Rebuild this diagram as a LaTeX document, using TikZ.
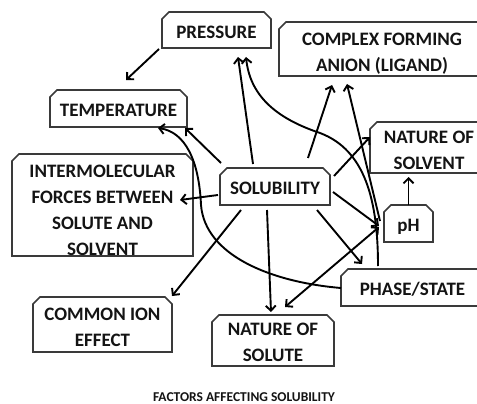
\documentclass[tikz,border=0pt]{standalone}
\usepackage{fontspec}
\setmainfont{Carlito}
\usetikzlibrary{arrows.meta,calc}
\definecolor{boxgray}{HTML}{3A3A3A}
\definecolor{ink}{HTML}{141414}
\tikzset{
  boxshape/.style={rectangle, draw=none, inner sep=0pt, outer sep=0pt},
  boxline/.style={draw=boxgray, line width=1.6pt, line join=miter},
  lbl/.style={align=center, inner sep=0pt, font=\fontsize{19}{26}\selectfont\bfseries, text=ink},
  tip/.tip={Straight Barb[length=5pt,width=10pt]},
  arr/.style={draw=black, line width=1.9pt, -tip},
  arrboth/.style={draw=black, line width=1.9pt, tip-tip},
}
\newcommand\chambox[7]{%
  \node[boxshape, minimum width={(#4-#2)*1pt}, minimum height={(#5-#3)*1pt}] (#1) at ({(#2+#4)/2},{(#3+#5)/2}) {};
  \draw[boxline] (#1.south west) -- ([yshift=-7pt]#1.north west) -- ([xshift=7pt]#1.north west) -- ([xshift=-7pt]#1.north east) -- ([yshift=-7pt]#1.north east) -- (#1.south east) -- cycle;
  \node[lbl] (#1-text) at ({(#2+#4)/2},{(#3+#5)/2+#7}) {#6};
}
\begin{document}
\begin{tikzpicture}[x=1pt,y=-1pt]
\useasboundingbox (0,0) rectangle (477,404);
\clip (0,0) rectangle (477,404);
\fill[white] (0,0) rectangle (477,404);
% boxes
\chambox{pres}{162}{12}{271}{48}{PRESSURE}{2.5}
\chambox{cplx}{279}{22}{485}{76}{COMPLEX FORMING\\ANION (LIGAND)}{5}
\chambox{temp}{50}{90}{187}{127}{TEMPERATURE}{1.5}
\chambox{inter}{12}{154}{193}{256}{INTERMOLECULAR\\FORCES BETWEEN\\SOLUTE AND\\SOLVENT}{5}
\chambox{sol}{220}{168}{330}{205}{SOLUBILITY}{2}
\chambox{nsolv}{370}{122}{488}{173}{NATURE OF\\SOLVENT}{2.5}
\chambox{ph}{384}{205}{433}{242}{pH}{3.5}
\chambox{phase}{341}{269}{484}{306}{PHASE/STATE}{2}
\chambox{nsolu}{212}{315}{334}{366}{NATURE OF\\SOLUTE}{2}
\chambox{cion}{33}{297}{172}{352}{COMMON ION\\EFFECT}{2.5}
\node[font=\fontsize{13.5}{16}\selectfont\bfseries, text=ink, anchor=base, inner sep=0pt] (cap) at (244,401) {FACTORS AFFECTING SOLUBILITY};
% connectors
\draw[arr] ([shift={(-3,1)}]pres.south west) -- ([shift={(7.5,-10)}]temp.north);
\draw[arr] ([shift={(1,-5)}]sol.north west) -- ([shift={(-2,1)}]temp.south east);
\draw[arr] ([shift={(0,0.5)}]phase.west) .. controls (270,282) and (205,255) .. (201,205) .. controls (199,160) and (185,132) .. ([shift={(39.5,1)}]temp.south);
\draw[arr] ([shift={(-2,8.5)}]sol.west) -- ([shift={(-13,-5)}]inter.east);
\draw[arr] ([shift={(21,5)}]sol.south west) -- ([shift={(0,-1)}]cion.north east);
\draw[arr] ([shift={(-8,5)}]sol.south) -- ([shift={(-2,-3)}]nsolu.north);
\draw[arrboth] ([shift={(-5,3.5)}]ph.west) -- ([shift={(12,-8)}]nsolu.north);
\draw[arr] ([shift={(-13,5)}]sol.south east) -- ([shift={(21,-5)}]phase.north west);
\draw[arr] ([shift={(3,5.5)}]sol.east) -- ([shift={(-5,2.5)}]ph.west);
\draw[arr] ([shift={(4,-10.5)}]sol.east) -- ([shift={(0,-10.5)}]nsolv.west);
\draw[arr] (ph.north) -- ([yshift=-4pt]ph.north |- nsolv.south);
\draw[arr] ([shift={(-22,-4)}]sol.north) -- ([shift={(21.5,9)}]pres.south);
\draw[arr] ([shift={(37,-3)}]phase.north west) .. controls (378,200) and (365,150) .. (320,133) .. controls (275,118) and (250,95) .. ([shift={(29.5,9)}]pres.south);
\draw[arr] ([shift={(-22,-10)}]sol.north east) -- ([shift={(-50,9)}]cplx.south);
\draw[arr] ([shift={(-4,-2.5)}]ph.west) -- ([shift={(-35,8)}]cplx.south);
\end{tikzpicture}
\end{document}
